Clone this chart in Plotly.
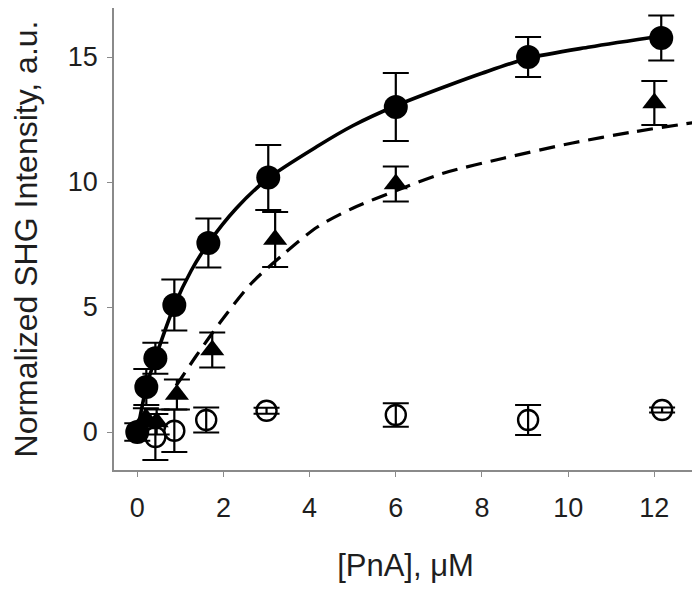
import plotly.graph_objects as go

# ---- data ----
conc_filled = [0.0, 0.21, 0.42, 0.86, 1.65, 3.04, 6.0, 9.07, 12.16]
shg_filled = [0.0, 1.8, 2.95, 5.08, 7.56, 10.18, 13.0, 15.0, 15.76]
err_filled = [0.35, 0.72, 0.62, 1.02, 0.98, 1.3, 1.36, 0.8, 0.9]

conc_tri = [0.2, 0.45, 0.92, 1.74, 3.2, 6.0, 12.0]
shg_tri = [0.55, 0.4, 1.5, 3.28, 7.7, 9.92, 13.16]
err_tri = [0.4, 0.5, 0.6, 0.7, 1.1, 0.7, 0.88]

conc_open = [0.42, 0.86, 1.6, 3.0, 6.0, 9.07, 12.18]
shg_open = [-0.2, 0.05, 0.48, 0.85, 0.68, 0.48, 0.88]
err_open = [0.92, 0.85, 0.5, 0.12, 0.47, 0.6, 0.1]

# fitted curves
fit_solid_x = [0.0, 0.21, 0.42, 0.86, 1.25, 1.65, 2.3, 3.04, 4.2, 5.0, 6.0, 7.2, 8.0, 9.07, 10.5, 12.2]
fit_solid_y = [0.0, 1.8, 2.95, 5.05, 6.45, 7.55, 8.95, 10.15, 11.45, 12.25, 13.05, 13.85, 14.35, 14.95, 15.4, 15.85]

fit_dash_x = [0.9, 1.0, 1.35, 1.93, 2.65, 3.4, 4.18, 5.0, 6.0, 7.1, 8.5, 10.1, 11.5, 13.0]
fit_dash_y = [1.85, 2.1, 3.0, 4.4, 5.95, 7.12, 8.2, 8.95, 9.65, 10.35, 10.95, 11.56, 12.0, 12.4]

xticks = [0, 2, 4, 6, 8, 10, 12]
yticks = [0, 5, 10, 15]

FONT = "Liberation Sans, Arial, sans-serif"
TXT = "#1e1e1e"

fig = go.Figure()

fig.add_trace(go.Scatter(x=fit_solid_x, y=fit_solid_y, mode="lines",
                         line=dict(color="black", width=3.6, shape="spline", smoothing=0.8),
                         showlegend=False, hoverinfo="skip"))
fig.add_trace(go.Scatter(x=fit_dash_x, y=fit_dash_y, mode="lines",
                         line=dict(color="black", width=3.2, dash="16px,9px", shape="spline", smoothing=0.8),
                         showlegend=False, hoverinfo="skip"))

err_style = dict(type="data", visible=True, color="black", thickness=2.2, width=13)

fig.add_trace(go.Scatter(x=conc_open, y=shg_open, mode="markers",
                         marker=dict(symbol="circle-open", size=20, color="black", line=dict(width=2.4, color="black")),
                         error_y=dict(array=err_open, **err_style), showlegend=False))
fig.add_trace(go.Scatter(x=conc_tri, y=shg_tri, mode="markers",
                         marker=dict(symbol="triangle-up", size=21, color="black"),
                         error_y=dict(array=err_tri, **err_style), showlegend=False))
fig.add_trace(go.Scatter(x=conc_filled, y=shg_filled, mode="markers",
                         marker=dict(symbol="circle", size=24, color="black"),
                         error_y=dict(array=err_filled, **err_style), showlegend=False))

axis_common = dict(showgrid=False, zeroline=False, showline=True, mirror=True, automargin=False,
                   linecolor="#8a8a8a", linewidth=1.5, ticks="outside", ticklen=5,
                   tickwidth=1.3, tickcolor="#8a8a8a",
                   tickfont=dict(family=FONT, size=27, color=TXT))

# the page adds an 8 px body margin, so the figure is 8 px smaller and margins shifted
fig.update_layout(
    width=692, height=582,
    margin=dict(l=106, r=3, t=0, b=120, autoexpand=False),
    paper_bgcolor="white", plot_bgcolor="white",
    xaxis=dict(range=[-0.54, 12.99], tickvals=xticks, ticktext=[str(t) for t in xticks],
               ticklabelstandoff=8,
               title=dict(text="[PnA], μM", font=dict(family=FONT, size=31, color=TXT), standoff=32),
               **axis_common),
    yaxis=dict(range=[-1.52, 16.96], tickvals=yticks, ticktext=[str(t) for t in yticks],
               ticklabelstandoff=4,
               title=dict(text="Normalized SHG Intensity, a.u.", font=dict(family=FONT, size=32, color=TXT), standoff=23),
               **axis_common),
)

fig.write_html("out.html")
